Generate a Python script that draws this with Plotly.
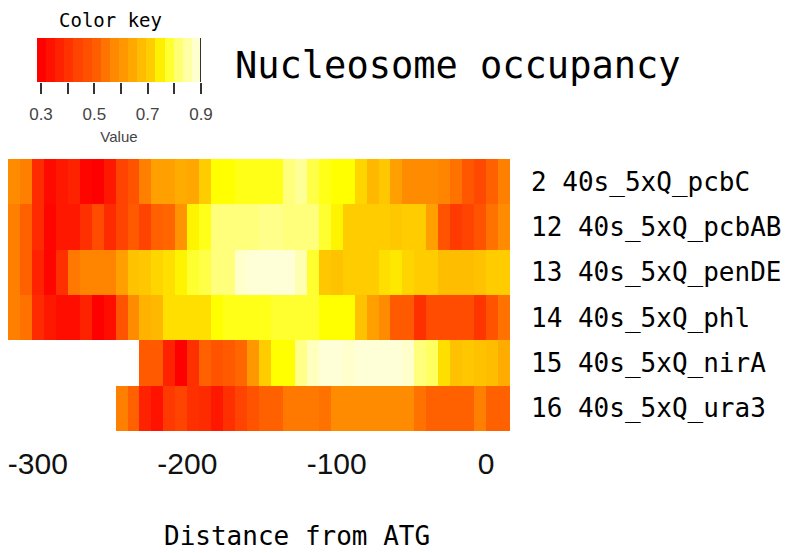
import numpy as np
import plotly.graph_objects as go

# Promoter regions (rows, top to bottom)
rows = ["2 40s_5xQ_pcbC", "12 40s_5xQ_pcbAB", "13 40s_5xQ_penDE",
        "14 40s_5xQ_phl", "15 40s_5xQ_nirA", "16 40s_5xQ_ura3"]

# Bin centres (bp from ATG), 8 bp bins
distance = list(range(-316, 16, 8))

pcbC = [0.58, 0.56, 0.39, 0.32, 0.35, 0.37, 0.31, 0.30, 0.35, 0.44, 0.48, 0.56,
        0.63, 0.63, 0.65, 0.64, 0.71, 0.76, 0.76, 0.77, 0.77, 0.77, 0.77, 0.82,
        0.84, 0.79, 0.77, 0.76, 0.76, 0.72, 0.67, 0.70, 0.63, 0.58, 0.58, 0.58,
        0.57, 0.54, 0.49, 0.45, 0.51, 0.56]
pcbAB = [0.56, 0.51, 0.39, 0.31, 0.35, 0.35, 0.40, 0.46, 0.39, 0.44, 0.50, 0.44,
         0.51, 0.52, 0.60, 0.75, 0.77, 0.82, 0.82, 0.82, 0.82, 0.83, 0.83, 0.82,
         0.82, 0.82, 0.78, 0.75, 0.71, 0.71, 0.71, 0.71, 0.70, 0.71, 0.71, 0.63,
         0.48, 0.42, 0.44, 0.48, 0.54, 0.58]
penDE = [0.56, 0.51, 0.37, 0.31, 0.40, 0.55, 0.57, 0.57, 0.57, 0.63, 0.69, 0.70,
         0.72, 0.73, 0.75, 0.78, 0.79, 0.82, 0.82, 0.88, 0.89, 0.89, 0.89, 0.89,
         0.86, 0.78, 0.70, 0.69, 0.71, 0.71, 0.71, 0.73, 0.74, 0.72, 0.71, 0.71,
         0.68, 0.68, 0.68, 0.69, 0.71, 0.71]
phl = [0.56, 0.54, 0.39, 0.35, 0.33, 0.33, 0.37, 0.30, 0.33, 0.48, 0.58, 0.66,
       0.67, 0.73, 0.73, 0.73, 0.73, 0.76, 0.77, 0.77, 0.77, 0.77, 0.78, 0.78,
       0.78, 0.78, 0.76, 0.76, 0.76, 0.69, 0.63, 0.58, 0.50, 0.50, 0.40, 0.46,
       0.46, 0.46, 0.46, 0.41, 0.48, 0.54]
nirA = [None, None, None, None, None, None, None, None, None, None, None,
        0.50, 0.50, 0.37, 0.30, 0.40, 0.51, 0.48, 0.50, 0.52, 0.61, 0.71, 0.76,
        0.76, 0.83, 0.87, 0.89, 0.89, 0.88, 0.89, 0.89, 0.89, 0.89, 0.88, 0.82,
        0.80, 0.73, 0.69, 0.70, 0.69, 0.68, 0.65]
ura3 = [None, None, None, None, None, None, None, None, None,
        0.56, 0.51, 0.37, 0.34, 0.42, 0.44, 0.40, 0.39, 0.35, 0.40, 0.44, 0.48,
        0.51, 0.51, 0.55, 0.55, 0.55, 0.54, 0.58, 0.58, 0.58, 0.58, 0.58, 0.58,
        0.58, 0.54, 0.51, 0.51, 0.51, 0.51, 0.56, 0.51, 0.51]

occupancy = [pcbC, pcbAB, penDE, phl, nirA, ura3]

# Distance axis ticks
dist_ticks = [-300, -200, -100, 0]

# Colour key range and ticks
zmin, zmax = 0.285, 0.9
key_ticks = [0.3, 0.4, 0.5, 0.6, 0.7, 0.8, 0.9]
key_labels = ["0.3", "", "0.5", "", "0.7", "", "0.9"]

# Heat palette: red -> orange -> yellow -> near white
heat_stops = [(0.285, "#FF0000"), (0.30, "#FF0000"), (0.35, "#FF1800"),
              (0.40, "#FF3000"), (0.45, "#FF4800"), (0.50, "#FF5A00"),
              (0.55, "#FF7800"), (0.58, "#FF8C00"), (0.63, "#FFA000"),
              (0.67, "#FFB800"), (0.71, "#FFCC00"), (0.74, "#FFE800"),
              (0.76, "#FFFF00"), (0.80, "#FFFF60"), (0.84, "#FFFF98"),
              (0.90, "#FFFFE4")]
colorscale = [[(v - zmin) / (zmax - zmin), c] for v, c in heat_stops]

W, H = 795, 553


def px_x(p):
    return p / W


def px_y(p):
    return 1 - p / H


fig = go.Figure()

fig.add_trace(go.Heatmap(
    z=occupancy, x=distance, y=rows,
    colorscale=colorscale, zmin=zmin, zmax=zmax,
    showscale=False, hoverinfo="skip",
    xaxis="x", yaxis="y",
))

# Colour key drawn as a one-row heatmap of stepped values
n_blocks = 18
block = (zmax - zmin) / n_blocks
key_x = [zmin + block * (i + 0.5) for i in range(n_blocks)]
fig.add_trace(go.Heatmap(
    z=[key_x], x=key_x, y=[0],
    colorscale=colorscale, zmin=zmin, zmax=zmax,
    showscale=False, hoverinfo="skip",
    xaxis="x2", yaxis="y2",
))

mono = "DejaVu Sans Mono"
sans = "Liberation Sans"

fig.update_layout(
    template="none",
    width=W, height=H,
    margin=dict(l=0, r=0, t=0, b=0),
    paper_bgcolor="white", plot_bgcolor="white",
    showlegend=False,
    xaxis=dict(
        domain=[px_x(8), px_x(510)], range=[-320, 16], anchor="y",
        tickvals=dist_ticks, ticktext=[str(v) for v in dist_ticks],
        ticks="", showgrid=False, automargin=False,
        zeroline=False, showline=False,
        tickfont=dict(family=sans, size=30, color="#111111"),
        ticklabelstandoff=12,
    ),
    yaxis=dict(
        domain=[px_y(431), px_y(159)], anchor="x", side="right",
        type="category", autorange="reversed", ticks="", showgrid=False,
        zeroline=False, showline=False, automargin=False,
        tickfont=dict(family=mono, size=26, color="#000000"),
        ticklabelstandoff=20,
    ),
    xaxis2=dict(
        domain=[px_x(37), px_x(201)], range=[zmin, zmax], anchor="y2",
        tickvals=key_ticks, ticktext=key_labels, ticks="outside",
        ticklen=11, tickwidth=2, tickcolor="#333333",
        showgrid=False, zeroline=False, showline=False, automargin=False,
        tickfont=dict(family=sans, size=17, color="#444444"),
        ticklabelstandoff=6,
        title=dict(text="Value", font=dict(family=sans, size=15, color="#444444"),
                   standoff=8),
    ),
    yaxis2=dict(
        domain=[px_y(82), px_y(38)], anchor="x2", range=[-0.5, 0.5],
        visible=False, automargin=False,
    ),
    shapes=[dict(type="line", xref="x2", yref="y2 domain",
                 x0=zmax, x1=zmax, y0=0, y1=1,
                 line=dict(color="#333333", width=2))],
    annotations=[
        dict(text="Color key", xref="paper", yref="paper",
             x=px_x(110), y=px_y(20), xanchor="center", yanchor="middle",
             showarrow=False, font=dict(family=mono, size=19, color="#000000")),
        dict(text="Nucleosome occupancy", xref="paper", yref="paper",
             x=px_x(233), y=px_y(66), xanchor="left", yanchor="middle",
             showarrow=False, font=dict(family=mono, size=37, color="#000000")),
        dict(text="Distance from ATG", xref="paper", yref="paper",
             x=px_x(297), y=0, xanchor="center", yanchor="bottom",
             showarrow=False, font=dict(family=mono, size=26, color="#000000")),
    ],
)

fig.write_html("out.html")
